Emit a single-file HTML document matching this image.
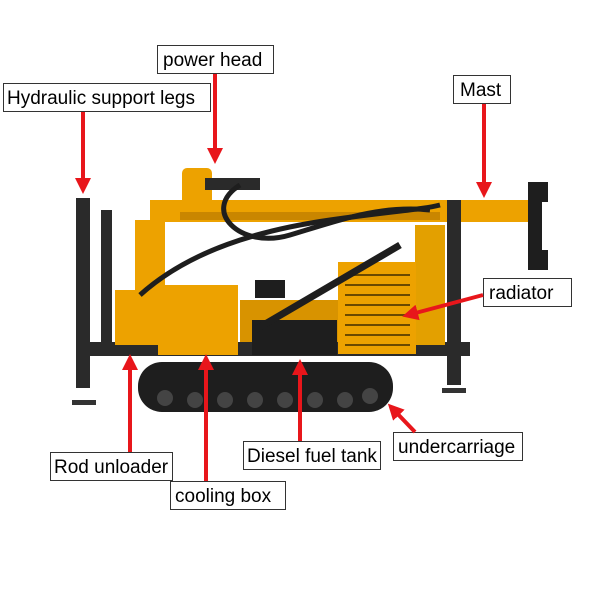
<!DOCTYPE html>
<html><head><meta charset="utf-8"><style>
html,body{margin:0;padding:0;background:#fff;width:600px;height:600px;overflow:hidden}
text{font-family:"Liberation Sans",sans-serif;font-size:19px;fill:#000}
</style></head><body>
<svg width="600" height="600" viewBox="0 0 600 600" xmlns="http://www.w3.org/2000/svg">
<defs><marker id="a" markerWidth="4" markerHeight="4" refX="2.5" refY="2" orient="auto" markerUnits="strokeWidth"><path d="M0,0 L4,2 L0,4 z" fill="#e8161b"/></marker></defs>
<rect x="138" y="362" width="255" height="50" rx="24" fill="#1e1e1e"/>
<g fill="#444"><circle cx="165" cy="398" r="8"/><circle cx="195" cy="400" r="8"/><circle cx="225" cy="400" r="8"/><circle cx="255" cy="400" r="8"/><circle cx="285" cy="400" r="8"/><circle cx="315" cy="400" r="8"/><circle cx="345" cy="400" r="8"/><circle cx="370" cy="396" r="8"/></g>
<rect x="90" y="342" width="380" height="14" fill="#2a2a2a"/>
<rect x="150" y="200" width="390" height="22" fill="#eda200"/>
<rect x="180" y="212" width="260" height="8" fill="#c98600"/>
<path d="M528 182 h20 v20 h-6 v48 h6 v20 h-20 z" fill="#1e1e1e"/>
<rect x="135" y="220" width="30" height="125" fill="#eda200"/>
<rect x="415" y="225" width="30" height="120" fill="#e3a000"/>
<rect x="182" y="168" width="30" height="40" rx="5" fill="#eda200"/>
<rect x="205" y="178" width="55" height="12" fill="#2a2a2a"/>
<rect x="115" y="290" width="40" height="55" fill="#eda200"/>
<rect x="158" y="285" width="80" height="70" fill="#eda200"/>
<rect x="240" y="300" width="100" height="42" fill="#d89300"/>
<rect x="252" y="320" width="85" height="35" fill="#1e1e1e"/>
<rect x="338" y="262" width="78" height="92" fill="#eda200"/>
<g stroke="#6b4a00" stroke-width="2">
<line x1="345" y1="275" x2="410" y2="275"/><line x1="345" y1="285" x2="410" y2="285"/><line x1="345" y1="295" x2="410" y2="295"/><line x1="345" y1="305" x2="410" y2="305"/><line x1="345" y1="315" x2="410" y2="315"/><line x1="345" y1="325" x2="410" y2="325"/><line x1="345" y1="335" x2="410" y2="335"/><line x1="345" y1="345" x2="410" y2="345"/></g>
<rect x="255" y="280" width="30" height="18" fill="#1e1e1e"/>
<path d="M140 295 C190 250 260 230 330 220 S420 210 440 205" stroke="#1e1e1e" stroke-width="5" fill="none"/>
<path d="M240 185 C200 210 240 250 290 235 S380 205 430 210" stroke="#1e1e1e" stroke-width="5" fill="none"/>
<line x1="255" y1="330" x2="400" y2="245" stroke="#1e1e1e" stroke-width="7"/>
<rect x="76" y="198" width="14" height="190" fill="#2a2a2a"/><rect x="72" y="400" width="24" height="5" fill="#333"/>
<rect x="101" y="210" width="11" height="140" fill="#2a2a2a"/>
<rect x="447" y="200" width="14" height="185" fill="#2a2a2a"/><rect x="442" y="388" width="24" height="5" fill="#333"/>
<g fill="#fff" stroke="#333" stroke-width="1">
<rect x="157.5" y="45.5" width="116" height="28"/>
<rect x="3.5" y="83.5" width="207" height="28"/>
<rect x="453.5" y="75.5" width="57" height="28"/>
<rect x="483.5" y="278.5" width="88" height="28"/>
<rect x="393.5" y="432.5" width="129" height="28"/>
<rect x="243.5" y="441.5" width="137" height="28"/>
<rect x="50.5" y="452.5" width="122" height="28"/>
<rect x="170.5" y="481.5" width="115" height="28"/>
</g>
<text x="163" y="66">power head</text>
<text x="7" y="104">Hydraulic support legs</text>
<text x="460" y="96">Mast</text>
<text x="489" y="299">radiator</text>
<text x="398" y="453">undercarriage</text>
<text x="247" y="462">Diesel fuel tank</text>
<text x="54" y="473">Rod unloader</text>
<text x="175" y="502">cooling box</text>
<g stroke="#e8161b" stroke-width="4" marker-end="url(#a)">
<line x1="215" y1="74" x2="215" y2="158"/>
<line x1="83" y1="112" x2="83" y2="188"/>
<line x1="484" y1="104" x2="484" y2="192"/>
<line x1="483" y1="295" x2="408" y2="315"/>
<line x1="415" y1="432" x2="392" y2="408"/>
<line x1="300" y1="441" x2="300" y2="365"/>
<line x1="130" y1="452" x2="130" y2="360"/>
<line x1="206" y1="481" x2="206" y2="360"/>
</g>
</svg>
</body></html>
